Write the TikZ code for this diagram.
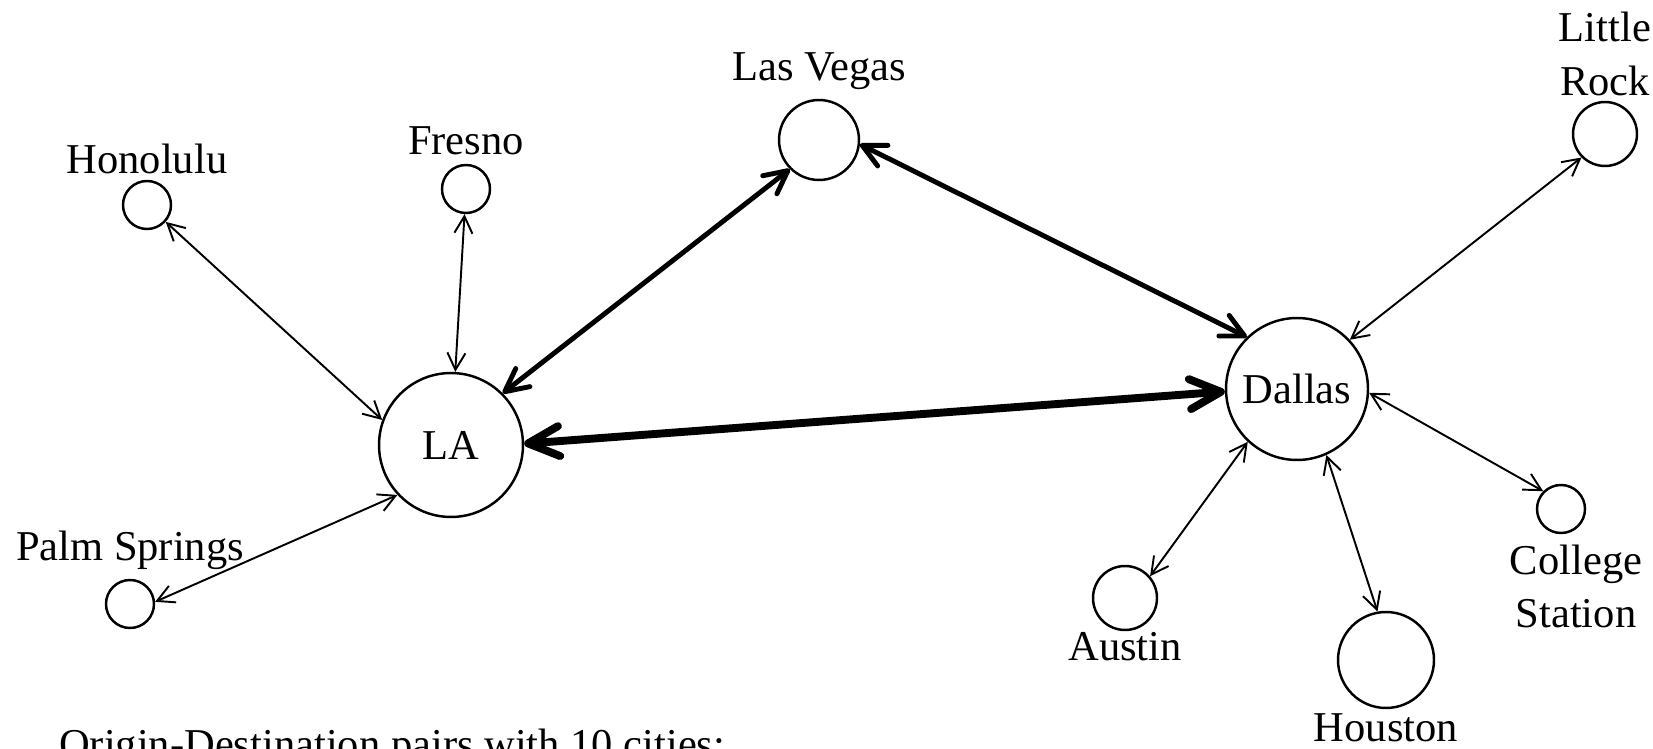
\documentclass[tikz,border=0pt]{standalone}
\usepackage{fontspec}
\setmainfont{Liberation Serif}
\usetikzlibrary{arrows.meta}
\usetikzlibrary{positioning}
\tikzset{
  city/.style={circle, draw, line width=1.4pt, inner sep=0pt},
  odpair/.style={<->, >={Straight Barb[length=3.4mm,width=3.6mm]}, line width=1.1pt},
  odbusy/.style={<->, >={Straight Barb[length=4.6mm,width=4.6mm,round]}, line width=2.8pt},
  odhub/.style={<->, >={Straight Barb[length=6.2mm,width=6mm,round]}, line width=4.5pt},
  every label/.style={inner sep=0pt, align=center}
}
\begin{document}
\begin{tikzpicture}[x=0.02cm, y=-0.02cm, font=\fontsize{24.2}{30.6}\selectfont]
\useasboundingbox (0,0) rectangle (1653,749);
\node[city, minimum size=2.88cm] (LA) at (451,445) {LA};
\node[city, minimum size=2.84cm] (Dallas) at (1297,389) {Dallas};
\node[city, minimum size=1.6cm, label={[name=lvname, label distance=0.18cm]above:Las Vegas}] (LV) at (819,140) {};
\node[city, minimum size=0.96cm, label={[name=honname, label distance=0.12cm]above:Honolulu}] (Hon) at (147,205) {};
\node[city, minimum size=0.96cm, label={[name=frename, label distance=0.18cm]above:Fresno}] (Fresno) at (466,189) {};
\node[city, minimum size=0.96cm, label={[name=psname, label distance=0.18cm]above:Palm Springs}] (PS) at (130,604) {};
\node[city, minimum size=1.28cm, label={[name=lrname, label distance=0.1cm]above:{Little\\Rock}}] (LR) at (1605,134) {};
\node[city, minimum size=0.96cm, label={[name=csname, label distance=0.2cm, xshift=0.3cm]below:{College\\Station}}] (CS) at (1561,509) {};
\node[city, minimum size=1.28cm, label={[name=ausname, label distance=0.02cm]below:Austin}] (Austin) at (1125,598) {};
\node[city, minimum size=1.92cm, label={[name=houname, label distance=0.08cm]below:Houston}] (Houston) at (1386,660) {};
\node[anchor=base west] (odtext) at (53,758) {Origin-Destination pairs with 10 cities:};
\draw[odpair] (Hon.-42) -- (LA.160);
\draw[odpair] (Fresno) -- (LA);
\draw[odpair] (PS.5) -- (LA.-137);
\draw[odbusy] (LA.45) -- (LV.225);
\draw[odbusy] (LV.-6) -- (Dallas.134);
\draw[odhub] (LA.1) -- (Dallas.-178);
\draw[odpair] (Dallas.43) -- (LR.-135);
\draw[odpair] (Dallas.-3) -- (CS.135);
\draw[odpair] (Austin.41) -- (Dallas.-133);
\draw[odpair] (Dallas.-66) -- (Houston.100);
\end{tikzpicture}
\end{document}
